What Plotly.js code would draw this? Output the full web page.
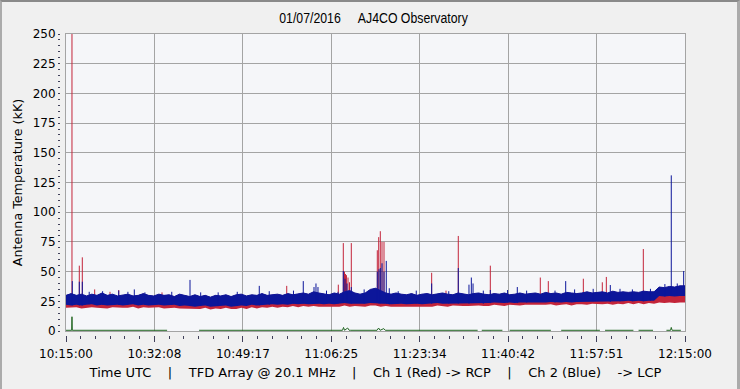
<!DOCTYPE html>
<html><head><meta charset="utf-8">
<script src="https://cdn.plot.ly/plotly-3.0.1.min.js"></script>
<style>
html,body{margin:0;padding:0;background:#f0f0f0;}
#wrap{position:relative;width:740px;height:389px;overflow:hidden;}
#chart{width:740px;height:389px;}
#frame{position:absolute;left:0;top:0;width:740px;height:389px;box-sizing:border-box;border-top:2px solid #8a8a8a;border-left:2px solid #ababab;border-right:3px solid #ababab;pointer-events:none;}
</style></head><body>
<div id="wrap"><div id="chart"></div><div id="frame"></div></div>
<script>
// ---- text ----
const NB4 = '\u00a0\u00a0\u00a0\u00a0';
const titleText = '01/07/2016\u00a0\u00a0\u00a0\u00a0\u00a0AJ4CO Observatory';
const yTitle = 'Antenna Temperature (kK)';
const xTitle = 'Time UTC' + NB4 + '|' + NB4 + 'TFD Array @ 20.1 MHz' + NB4 + '|' + NB4 + 'Ch 1 (Red) -> RCP' + NB4 + '|' + NB4 + 'Ch 2 (Blue)' + NB4 + '-> LCP';
const timeLabels = ['10:15:00','10:32:08','10:49:17','11:06:25','11:23:34','11:40:42','11:57:51','12:15:00'];

// ---- data (kK), sampled every minute from 10:15:00 ----
const sampleStep = 1;
const blueHigh = [
 30,31.5,30,31,29.5,31,30,32,30,31,
 29.5,30.5,31,29.5,30,31.5,30,29.5,31,30,
 30.5,29,31,30,29,30.5,29,30,28.5,30,
 29.5,30.5,29,30.5,31,29.5,30.5,30,31.5,30,
 30.5,31,30,31.5,30.5,31,32,31,33,32,
 31,30.5,32,31,33,34,32,31,32,35,
 36,34,32,31,32,31,30.5,31.5,30,31,
 31.5,30.5,31,32,31,30.5,32,31,30.5,31.5,
 32,31,30.5,31.5,31,32,30.5,31,32,31,
 31.5,32,31,32.5,31.5,32,31,32.5,32,31.5,
 32,33,32,32.5,33,32,33.5,32.5,33,32.5,
 33,32.5,33.5,33,33,37,36.5,37.5,37,38,38];
const blueLow = [
 22,21.5,22,21.5,22,22.5,21.5,22,21.5,22,
 22,21.5,22,22.5,21.5,22,21.5,22,22,21.5,
 21.5,22,21,21.5,21,20.5,21,21.5,20.5,21,
 21,21.5,20.5,21,21.5,21,22,21.5,22,22,
 22.5,22,22.5,22,23,22.5,23,22.5,23,23,
 22.5,23,22.5,23,23.5,23,23,22.5,23,23.5,
 23.5,23,23,22.5,23,23,22.5,23,23,22.5,
 23,23,23.5,23,23,23.5,23,23.5,23,23.5,
 23.5,23,23.5,24,23.5,23.5,24,23.5,24,24,
 24,23.5,24,24,24.5,24,24,24.5,24,24.5,
 24.5,24.5,25,24.5,25,25,24.5,25,25,25.5,
 25,25.5,25,25.5,25.5,29.5,29,29.5,29,29.5,29.5];
const redLow = [
 19.5,19.5,20,19,19.5,20,19.5,19.5,19,20,
 19.5,19.5,19.5,20.5,19,20,19.5,19.5,20,19,
 19.5,19.5,19,19,18.5,18.5,18.5,19.5,18,19,
 18.5,19.5,18.5,18.5,19.5,18.5,20,19,20,19.5,
 20.5,19.5,20.5,20,21,20,21,20.5,21,20.5,
 20.5,21,20.5,20.5,21.5,20.5,21,20.5,20.5,21.5,
 21.5,20.5,21,20.5,20.5,21,20.5,20.5,21,20.5,
 21,20.5,21.5,21,20.5,21.5,21,21,21,21.5,
 21.5,21,21,22,21.5,21,22,21.5,21.5,22,
 22,21.5,21.5,22,22.5,21.5,22,22.5,21.5,22.5,
 22.5,22,23,22.5,22.5,23,22,23,22.5,23.5,
 22.5,23.5,22.5,23.5,23,24,23.5,24,23.5,24,24];

// spikes: time (min after 10:15:00) and peak (kK)
const redSpikeT    = [1.16,2.58,3.16,5.56,8.53,10.22,18.61,42.79,52.79,53.76,53.99,54.18,54.37,54.67,54.96,55.31,60.35,60.62,60.93,61.26,61.65,70.89,73.67,76.05,82.26,91.95,93.50,100.29,103.97,104.75,111.92];
const redSpikePeak = [262, 55, 62, 35, 33, 34.5, 32.5, 38, 39, 74, 50, 48, 47, 45, 41, 74, 68, 79, 84, 75, 75, 49, 34, 80, 55, 45, 42, 44, 41, 45.5, 69];
const blueSpikeT    = [1.22,2.58,3.16,10.22,13.24,24.04,26.11,37.47,46.0,48.08,48.46,48.85,52.73,53.76,54.09,54.47,55.31,60.35,60.68,60.93,61.26,61.65,62.09,62.67,70.89,76.05,78.12,78.58,78.91,82.26,87.49,96.87,105.52,111.92,117.34,119.74];
const blueSpikePeak = [42, 41.5, 41.5, 34, 35, 43, 32.5, 38, 42, 37, 40, 37, 33, 50.5, 44, 40, 37, 50, 52, 53, 57, 50, 59, 36, 40, 53, 39, 45, 40, 34.5, 37, 42, 38.7, 34, 131, 50.5];
const blueFringeT    = [4.5,7.1,12.0,15.3,20.5,29.5,33.2,39.4,44.1,50.5,57.8,64.4,67.9,74.2,80.9,85.6,89.3,94.8,98.6,102.2,107.4,109.8,113.3,116.1,118.5];
const blueFringePeak = [33, 33.5, 33, 32.5, 33, 32.5, 33, 33.5, 34, 34, 35, 33.5, 34, 33.5, 34, 34.5, 34, 34, 35, 35.5, 35.5, 35, 35.5, 39.5, 40];

// channel 3 (green) trace, gaps as null
const greenT = [0,1.1,1.16,1.22,19.6,null,25.8,53.6,53.8,54.0,54.6,54.9,55.2,60.3,60.6,60.9,61.6,61.9,79.8,null,80.6,84.6,null,86.0,94.0,null,96.0,103.5,null,104.5,110.0,null,111.0,113.8,null,116.4,117.2,117.34,117.5,119.2];
const greenV = [0.6,0.6,12,0.6,0.6,null,0.6,0.6,3,0.6,2.5,0.6,0.6,0.6,2.5,0.6,2,0.6,0.6,null,0.6,0.6,null,0.6,0.6,null,0.6,0.6,null,0.6,0.6,null,0.6,0.6,null,0.6,0.6,3,0.6,0.6];

// ---- build ----
const RED = '#c3243a', BLUE = '#0c169a', GREEN = '#226622';
function toMin(s){const p=s.split(':').map(Number);return p[0]*60+p[1]+p[2]/60;}
const t0 = toMin(timeLabels[0]);
const tickVals = timeLabels.map(s => toMin(s) - t0);
const tGrid = blueHigh.map((_, i) => i * sampleStep);
function spikes(ts, peaks){
  const x = [], y = [];
  ts.forEach((tt, i) => {
    const base = blueLow[Math.min(blueLow.length - 1, Math.round(tt / sampleStep))];
    x.push(tt, tt, null); y.push(base, peaks[i], null);
  });
  return {x, y};
}
const rs = spikes(redSpikeT, redSpikePeak);
const bs = spikes(blueSpikeT, blueSpikePeak);
const bf = spikes(blueFringeT, blueFringePeak);

const traces = [
  {x: tGrid, y: redLow, mode: 'lines', line: {width: 0, color: RED}, hoverinfo: 'skip'},
  {x: tGrid, y: blueHigh, mode: 'lines', fill: 'tonexty', fillcolor: RED, line: {width: 0, color: RED}, hoverinfo: 'skip'},
  {x: rs.x, y: rs.y, mode: 'lines', line: {width: 1, color: RED}, connectgaps: false, hoverinfo: 'skip'},
  {x: tGrid, y: blueLow, mode: 'lines', line: {width: 0, color: BLUE}, hoverinfo: 'skip'},
  {x: tGrid, y: blueHigh, mode: 'lines', fill: 'tonexty', fillcolor: BLUE, line: {width: 1, color: BLUE}, hoverinfo: 'skip'},
  {x: bf.x, y: bf.y, mode: 'lines', line: {width: 1, color: BLUE}, connectgaps: false, hoverinfo: 'skip'},
  {x: bs.x, y: bs.y, mode: 'lines', line: {width: 1, color: BLUE}, connectgaps: false, hoverinfo: 'skip'},
  {x: greenT, y: greenV, xaxis: 'x2', yaxis: 'y2', mode: 'lines', line: {width: 1, color: GREEN}, connectgaps: false, hoverinfo: 'skip'}
];

const tickFont = {family: 'DejaVu Sans, Verdana, sans-serif', size: 12, color: '#000'};
const GRID = '#a4a4a4', TICK = '#40405a';
const layout = {
  width: 740, height: 389,
  margin: {l: 60, r: 55, t: 34, b: 54},
  paper_bgcolor: '#f0f0f0', plot_bgcolor: '#f5f6f9',
  showlegend: false,
  title: {text: titleText, font: {family: 'Liberation Sans, Arial, sans-serif', size: 15, color: '#000'},
          x: 373.5/740, xanchor: 'center', xref: 'container', y: 1 - 18/389, yanchor: 'middle', yref: 'container'},
  xaxis: {domain: [6/625, 1], range: [0, 120], tickmode: 'array', tickvals: tickVals, showticklabels: false, ticks: '',
          showgrid: true, gridcolor: GRID, gridwidth: 1, showline: true, linecolor: GRID, linewidth: 1, mirror: true, zeroline: false},
  yaxis: {domain: [4/301, 1], range: [0, 250], tickmode: 'linear', tick0: 0, dtick: 25, showticklabels: false, ticks: '',
          showgrid: true, gridcolor: GRID, gridwidth: 1, showline: true, linecolor: GRID, linewidth: 1, mirror: true, zeroline: false},
  xaxis2: {overlaying: 'x', anchor: 'free', position: 0, range: [0, 120], tickmode: 'array', tickvals: tickVals, ticktext: timeLabels,
           ticks: 'outside', ticklen: 6, tickwidth: 1, tickcolor: TICK, showgrid: false, showline: false, zeroline: false,
           ticklabelstandoff: 2,
           minor: {tick0: 0, dtick: 120/42, ticks: 'outside', ticklen: 3, tickwidth: 1, tickcolor: TICK, showgrid: false},
           tickfont: tickFont,
           title: {text: xTitle, font: {family: 'DejaVu Sans, Verdana, sans-serif', size: 13, color: '#000'}, standoff: 7}},
  yaxis2: {overlaying: 'y', anchor: 'free', position: 0, side: 'left', range: [0, 250], tickmode: 'linear', tick0: 0, dtick: 25,
           ticks: 'outside', ticklen: 2, tickwidth: 1, tickcolor: TICK, showgrid: false, showline: false, zeroline: false,
           minor: {tick0: 0, dtick: 5, ticks: 'outside', ticklen: 2, tickwidth: 1, tickcolor: TICK, showgrid: false},
           tickfont: tickFont,
           title: {text: yTitle, font: {family: 'DejaVu Sans, Verdana, sans-serif', size: 12.7, color: '#000'}, standoff: 6}}
};
Plotly.newPlot('chart', traces, layout, {displayModeBar: false, staticPlot: true}).then(() => {
  // narrow the title glyphs (condensed face as in the reference)
  const el = document.querySelector('.gtitle');
  if (el) {
    const bb = el.getBBox();
    const cx = bb.x + bb.width / 2;
    const prev = el.getAttribute('transform') || '';
    el.setAttribute('transform', prev + ' translate(' + cx + ' 0) scale(0.82 1) translate(' + (-cx) + ' 0)');
  }
});
</script></body></html>
